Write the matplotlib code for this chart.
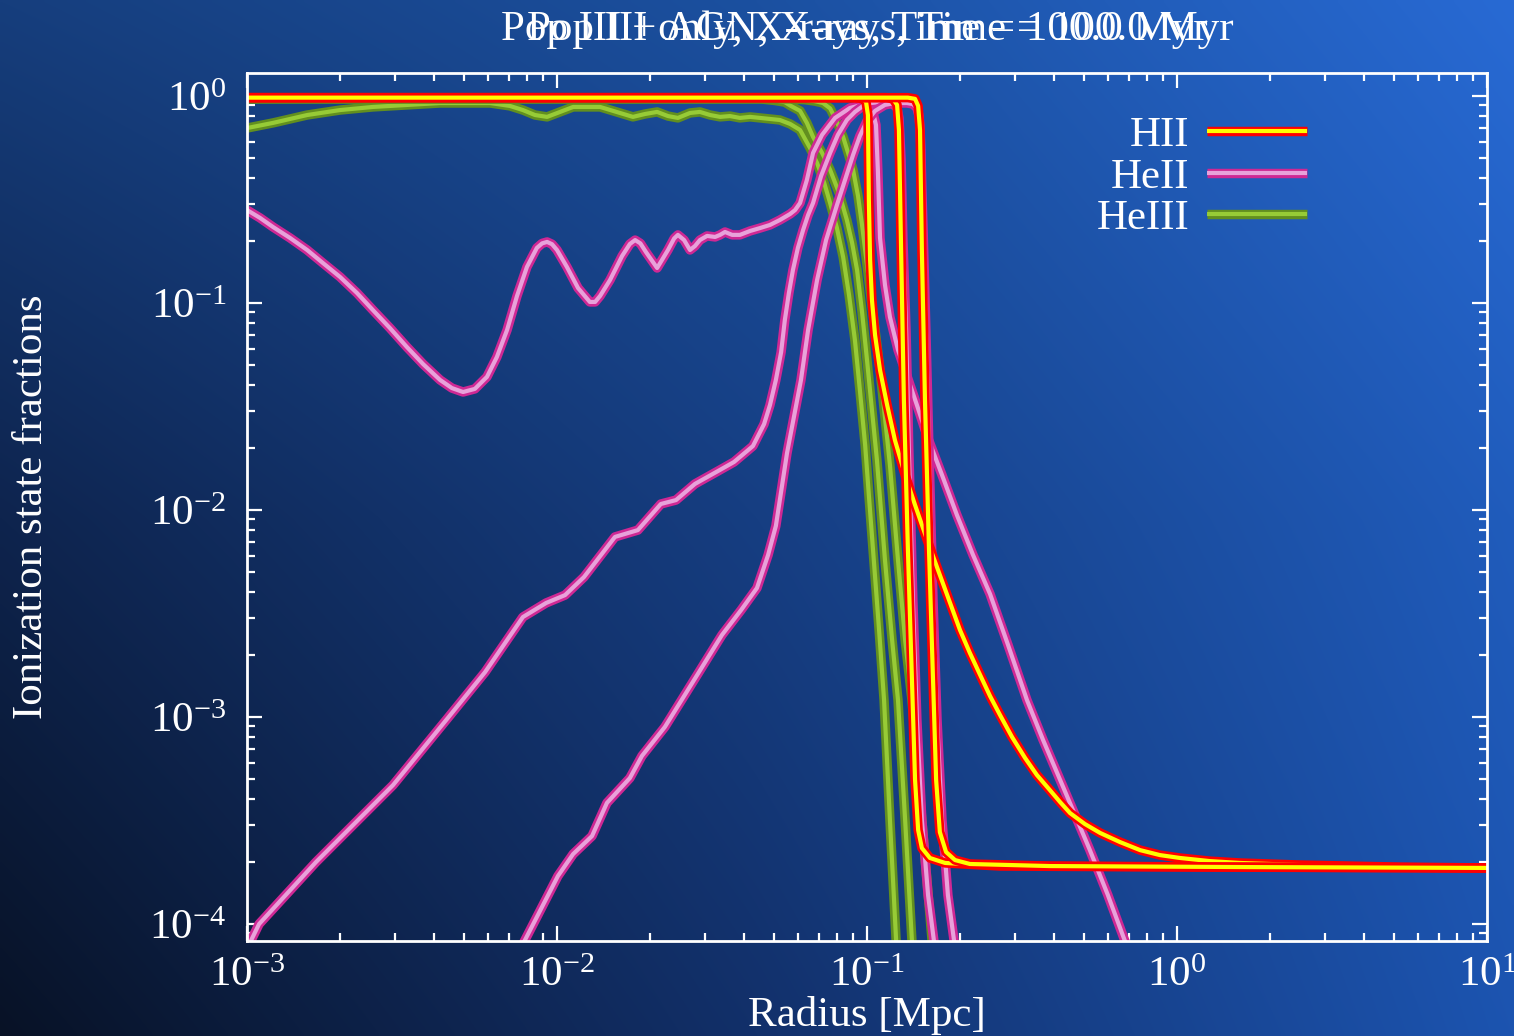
import numpy as np
import matplotlib
matplotlib.use("Agg")
import matplotlib.pyplot as plt
import matplotlib.patheffects as pe

plt.rcParams['font.family'] = ['Liberation Serif', 'DejaVu Serif']
plt.rcParams['mathtext.fontset'] = 'custom'
plt.rcParams['mathtext.rm'] = 'Liberation Serif'
plt.rcParams['mathtext.it'] = 'Liberation Serif:italic'
plt.rcParams['mathtext.default'] = 'regular'

# ---------------- data (log10 radius [Mpc], log10 fraction) ----------------
titles = ["Pop III + AGN, X-rays, Time = 100.0 Myr",
          "Pop III only, X-rays, Time = 100.0 Myr"]
xlabel = "Radius [Mpc]"
ylabel = "Ionization state fractions"
species = ["HII", "HeII", "HeIII"]

hii1_logr = [-3.0, -1.039, -1.016, -1.003, -0.997, -0.994, -0.990, -0.984, -0.974, -0.958, -0.935,
             -0.910, -0.877, -0.845, -0.806, -0.765, -0.732, -0.700, -0.668, -0.635, -0.603, -0.571,
             -0.532, -0.490, -0.452, -0.410, -0.377, -0.345, -0.297, -0.248, -0.184, -0.119, -0.055,
             0.010, 0.106, 0.203, 0.397, 0.719, 1.0]
hii1_logf = [-0.008, -0.008, -0.012, -0.029, -0.092, -0.502, -0.792, -0.986, -1.155, -1.324, -1.493,
             -1.662, -1.831, -1.976, -2.145, -2.314, -2.449, -2.580, -2.691, -2.797, -2.899, -2.990,
             -3.097, -3.198, -3.280, -3.353, -3.411, -3.464, -3.517, -3.560, -3.604, -3.643, -3.667,
             -3.681, -3.696, -3.705, -3.715, -3.725, -3.729]

hii2_logr = [-3.0, -0.939, -0.916, -0.903, -0.897, -0.890, -0.881, -0.868, -0.855, -0.845, -0.835,
             -0.823, -0.797, -0.748, -0.571, 0.074, 1.0]
hii2_logf = [-0.008, -0.008, -0.014, -0.043, -0.164, -0.744, -1.469, -2.193, -2.821, -3.304, -3.546,
             -3.633, -3.681, -3.705, -3.720, -3.725, -3.729]

hii3_logr = [-3.0, -0.868, -0.845, -0.835, -0.829, -0.823, -0.813, -0.800, -0.787, -0.777, -0.765,
             -0.745, -0.716, -0.668, -0.410, 0.235, 1.0]
hii3_logf = [-0.008, -0.008, -0.014, -0.048, -0.164, -0.744, -1.469, -2.193, -2.821, -3.304, -3.556,
             -3.652, -3.691, -3.710, -3.720, -3.725, -3.729]

heii1_logr = [-3.000, -2.958, -2.916, -2.861, -2.806, -2.755, -2.700, -2.645, -2.594, -2.539, -2.484,
              -2.432, -2.377, -2.339, -2.303, -2.265, -2.226, -2.194, -2.161, -2.129, -2.097, -2.065,
              -2.048, -2.032, -2.016, -2.000, -1.968, -1.932, -1.894, -1.877, -1.861, -1.829, -1.790,
              -1.765, -1.748, -1.731, -1.713, -1.677, -1.642, -1.622, -1.610, -1.590, -1.571, -1.555,
              -1.539, -1.516, -1.490, -1.474, -1.458, -1.435, -1.410, -1.377, -1.345, -1.313, -1.281,
              -1.248, -1.232, -1.216, -1.194, -1.174, -1.145, -1.103, -1.055, -1.006, -0.984, -0.971,
              -0.965, -0.958, -0.942, -0.926, -0.900, -0.871, -0.839, -0.806, -0.758, -0.710, -0.658,
              -0.603, -0.545, -0.484, -0.432, -0.377, -0.329, -0.281, -0.223, -0.168, -0.135]
heii1_logf = [-0.551, -0.589, -0.633, -0.686, -0.744, -0.807, -0.874, -0.952, -1.034, -1.121, -1.213,
              -1.295, -1.372, -1.411, -1.430, -1.415, -1.357, -1.261, -1.130, -0.966, -0.826, -0.734,
              -0.712, -0.705, -0.716, -0.744, -0.826, -0.928, -0.995, -0.995, -0.966, -0.889, -0.773,
              -0.715, -0.696, -0.712, -0.754, -0.831, -0.744, -0.688, -0.671, -0.696, -0.744, -0.725,
              -0.696, -0.676, -0.681, -0.671, -0.657, -0.671, -0.671, -0.652, -0.638, -0.623, -0.599,
              -0.570, -0.551, -0.517, -0.406, -0.275, -0.188, -0.106, -0.058, -0.039, -0.058, -0.140,
              -0.357, -0.686, -0.913, -1.068, -1.227, -1.353, -1.493, -1.643, -1.831, -2.024, -2.217,
              -2.406, -2.652, -2.918, -3.111, -3.304, -3.473, -3.643, -3.860, -4.082, -4.198]

heii2_logr = [-2.994, -2.961, -2.777, -2.529, -2.355, -2.232, -2.110, -2.035, -1.974, -1.913, -1.813,
              -1.739, -1.665, -1.616, -1.555, -1.481, -1.429, -1.368, -1.332, -1.313, -1.294, -1.277,
              -1.265, -1.252, -1.239, -1.223, -1.206, -1.190, -1.174, -1.148, -1.119, -1.094, -1.065,
              -1.039, -1.013, -0.987, -0.958, -0.935, -0.916, -0.903, -0.897, -0.894, -0.890, -0.887,
              -0.884, -0.874, -0.865, -0.852, -0.839, -0.823, -0.803, -0.784, -0.771]
heii2_logf = [-4.101, -4.000, -3.700, -3.329, -3.010, -2.783, -2.517, -2.449, -2.411, -2.324, -2.130,
              -2.097, -1.971, -1.952, -1.874, -1.812, -1.768, -1.691, -1.585, -1.493, -1.372, -1.237,
              -1.082, -0.952, -0.841, -0.734, -0.647, -0.575, -0.517, -0.386, -0.275, -0.188, -0.116,
              -0.077, -0.048, -0.034, -0.029, -0.029, -0.039, -0.058, -0.106, -0.188, -0.309, -0.502,
              -0.696, -1.130, -1.710, -2.435, -3.014, -3.498, -3.860, -4.082, -4.198]

heii3_logr = [-2.119, -2.110, -1.997, -1.948, -1.887, -1.839, -1.765, -1.726, -1.652, -1.542, -1.468,
              -1.406, -1.355, -1.319, -1.294, -1.258, -1.213, -1.190, -1.161, -1.132, -1.097, -1.071,
              -1.045, -1.023, -1.000, -0.974, -0.942, -0.910, -0.871, -0.852, -0.839, -0.832, -0.829,
              -0.826, -0.823, -0.819, -0.810, -0.800, -0.787, -0.774, -0.758, -0.739, -0.719, -0.706]
heii3_logf = [-4.126, -4.097, -3.768, -3.662, -3.575, -3.415, -3.295, -3.188, -3.048, -2.783, -2.604,
              -2.483, -2.377, -2.217, -2.077, -1.725, -1.372, -1.130, -0.889, -0.696, -0.527, -0.406,
              -0.285, -0.193, -0.121, -0.072, -0.043, -0.034, -0.034, -0.039, -0.058, -0.097, -0.155,
              -0.261, -0.454, -0.647, -1.130, -1.710, -2.435, -3.014, -3.498, -3.860, -4.082, -4.198]

heiii1_logr = [-3.0, -2.916, -2.806, -2.700, -2.594, -2.377, -2.216, -2.152, -2.110, -2.071, -2.032,
               -1.990, -1.948, -1.861, -1.797, -1.755, -1.716, -1.677, -1.642, -1.610, -1.571, -1.539,
               -1.506, -1.474, -1.442, -1.410, -1.377, -1.345, -1.313, -1.281, -1.248, -1.216, -1.184,
               -1.161, -1.139, -1.119, -1.097, -1.077, -1.058, -1.039, -1.023, -1.006, -0.994, -0.981,
               -0.961, -0.945, -0.926, -0.906, -0.900]
heiii1_logf = [-0.155, -0.130, -0.092, -0.068, -0.053, -0.034, -0.034, -0.048, -0.068, -0.092, -0.101,
               -0.077, -0.053, -0.053, -0.082, -0.101, -0.087, -0.077, -0.097, -0.106, -0.082, -0.077,
               -0.092, -0.101, -0.097, -0.106, -0.101, -0.106, -0.111, -0.116, -0.135, -0.164, -0.251,
               -0.324, -0.415, -0.517, -0.638, -0.778, -0.961, -1.179, -1.420, -1.686, -1.928, -2.184,
               -2.580, -2.918, -3.498, -4.082, -4.222]

heiii2_logr = [-3.0, -1.345, -1.297, -1.265, -1.248, -1.216, -1.194, -1.174, -1.145, -1.119, -1.090,
               -1.065, -1.048, -1.032, -1.016, -1.000, -0.984, -0.968, -0.955, -0.942, -0.919, -0.900,
               -0.877, -0.855, -0.848]
heiii2_logf = [-0.014, -0.014, -0.022, -0.030, -0.046, -0.072, -0.130, -0.198, -0.275, -0.357, -0.469,
               -0.599, -0.710, -0.841, -1.043, -1.275, -1.517, -1.758, -2.000, -2.242, -2.628, -2.918,
               -3.498, -4.082, -4.222]

heiii3_logr = [-3.0, -1.248, -1.200, -1.168, -1.142, -1.119, -1.097, -1.077, -1.061, -1.045, -1.029,
               -1.016, -1.003, -0.990, -0.974, -0.958, -0.926, -0.900, -0.877, -0.855, -0.823, -0.790,
               -0.781]
heiii3_logf = [-0.014, -0.014, -0.018, -0.025, -0.034, -0.060, -0.126, -0.198, -0.275, -0.357, -0.483,
               -0.623, -0.780, -0.937, -1.130, -1.324, -1.783, -2.242, -2.628, -2.918, -3.498, -4.082,
               -4.222]

# ---------------- figure & background ----------------
W, H = 1514, 1036
fig = plt.figure(figsize=(W / 100, H / 100), dpi=100)

# 3x3 control colours of the backdrop (rows: top, middle, bottom; cols: left, centre, right)
ctrl = np.array([
    [[22, 62, 125], [27, 80, 160], [40, 106, 212]],
    [[14, 36, 78], [22, 62, 130], [32, 92, 188]],
    [[8, 18, 38], [18, 48, 106], [28, 84, 176]],
]) / 255.0
nx, ny = 400, 280
u = np.linspace(0, 2, nx)
v = np.linspace(0, 2, ny)
rows = np.stack([np.stack([np.interp(u, [0, 1, 2], ctrl[r, :, c]) for c in range(3)], -1)
                 for r in range(3)])  # (3, nx, 3)
grad = np.stack([np.stack([np.interp(v, [0, 1, 2], rows[:, i, c]) for c in range(3)], -1)
                 for i in range(nx)], 1)  # (ny, nx, 3)
bg = fig.add_axes([0, 0, 1, 1], zorder=-10)
bg.imshow(np.clip(grad, 0, 1), aspect='auto', extent=[0, 1, 0, 1], interpolation='bilinear')
bg.axis('off')

ax = fig.add_axes([247 / W, 1 - 941 / H, (1487 - 247) / W, (941 - 73) / H])
ax.set_facecolor('none')

styles = {
    "HII": dict(outer='#ff0000', inner='#ffff00'),
    "HeII": dict(outer='#cf2894', inner='#e8a2da'),
    "HeIII": dict(outer='#628f1f', inner='#97cb36'),
}


def draw(lr, lf, sp, label=None):
    st = styles[sp]
    line, = ax.plot(10 ** np.array(lr), 10 ** np.array(lf), color=st['inner'], lw=3.0,
                    solid_joinstyle='round', solid_capstyle='butt', label=label,
                    path_effects=[pe.Stroke(linewidth=6.8, foreground=st['outer'],
                                            joinstyle='round'), pe.Normal()])
    return line


draw(heiii1_logr, heiii1_logf, "HeIII")
draw(heiii2_logr, heiii2_logf, "HeIII")
draw(heiii3_logr, heiii3_logf, "HeIII", label="HeIII")
draw(heii1_logr, heii1_logf, "HeII")
draw(heii2_logr, heii2_logf, "HeII")
draw(heii3_logr, heii3_logf, "HeII", label="HeII")
draw(hii1_logr, hii1_logf, "HII")
draw(hii2_logr, hii2_logf, "HII")
draw(hii3_logr, hii3_logf, "HII", label="HII")

ax.set_xscale('log')
ax.set_yscale('log')
ax.set_xlim(1e-3, 1e1)
ax.set_ylim(10 ** -4.082, 10 ** 0.111)

for s in ax.spines.values():
    s.set_color('white')
    s.set_linewidth(2.0)
ax.tick_params(which='both', direction='in', top=True, right=True, colors='white',
               labelsize=31, width=1.6)
ax.tick_params(which='major', length=11)
ax.tick_params(axis='y', which='major', pad=15)
ax.tick_params(axis='x', which='major', pad=11)
ax.tick_params(which='minor', length=6)
ax.set_xlabel(xlabel, color='white', fontsize=31, labelpad=1)
ax.set_ylabel(ylabel, color='white', fontsize=31)
ax.yaxis.set_label_coords(-0.158, 0.5)

for t in titles:
    ax.text(0.5, 1.038, t, transform=ax.transAxes, ha='center', va='baseline',
            color='white', fontsize=31)

handles, labels = ax.get_legend_handles_labels()
order = [labels.index(s) for s in species]
leg = ax.legend([handles[i] for i in order], [labels[i] for i in order],
                loc='upper right', bbox_to_anchor=(0.869, 0.970), frameon=False,
                markerfirst=False, fontsize=31, labelcolor='white',
                handlelength=2.32, handletextpad=0.42, labelspacing=0.05,
                borderaxespad=0.0)
for t in leg.get_texts():
    t.set_ha('right')

fig.savefig('out.png', dpi=100)
